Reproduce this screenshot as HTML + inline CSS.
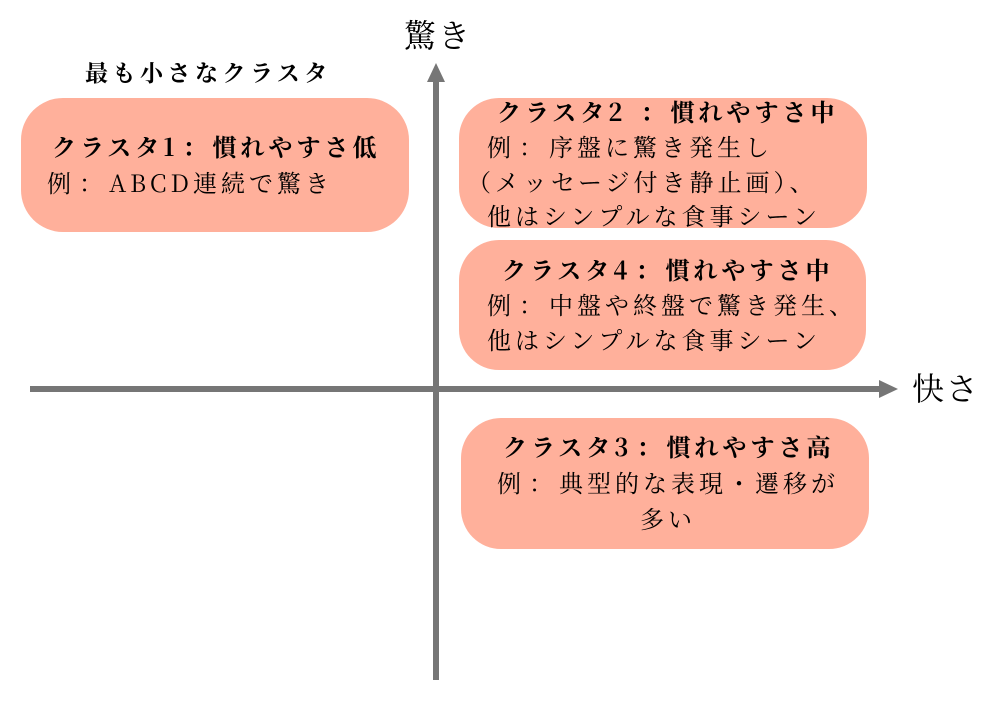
<!DOCTYPE html>
<html><head><meta charset="utf-8"><style>
body{margin:0;width:986px;height:702px;background:#fff;position:relative;overflow:hidden;font-family:"Noto Serif CJK SC","Liberation Serif",serif;color:#000}
.t{position:absolute;white-space:nowrap;font-size:24px;line-height:30px;letter-spacing:4px}
.b{font-weight:bold}
.c{letter-spacing:0;padding:0 6px 0 4px}
svg{position:absolute;left:0;top:0}
</style></head><body>
<svg width="986" height="702">
<rect x="21" y="98" width="388" height="134" rx="42" fill="#ffb09b"/>
<rect x="459" y="98" width="408" height="130" rx="40" fill="#ffb09b"/>
<rect x="459" y="240" width="407" height="130" rx="40" fill="#ffb09b"/>
<rect x="461" y="418" width="408" height="131" rx="40" fill="#ffb09b"/>
<rect x="433" y="80" width="6" height="600" fill="#767676"/>
<polygon points="436,63 427,82 445,82" fill="#767676"/>
<rect x="30" y="386" width="852" height="6" fill="#767676"/>
<polygon points="898,389 879,380 879,398" fill="#767676"/>
</svg>
<div class="t" style="left:404px;top:14px;font-size:32px;line-height:40px;letter-spacing:2px">驚き</div>
<div class="t" style="left:912px;top:367px;font-size:32px;line-height:40px;letter-spacing:2px">快さ</div>
<div class="t b" style="left:85px;top:57px;font-size:23px;letter-spacing:4.5px">最も小さなクラスタ</div>

<div class="t b" style="left:52px;top:131px">クラスタ1<span class="c">：</span>慣れやすさ低</div>
<div class="t" style="left:47px;top:167px">例<span class="c">：</span>ABCD連続で驚き</div>

<div class="t b" style="left:497px;top:96px">クラスタ2 <span class="c">：</span>慣れやすさ中</div>
<div class="t" style="left:487px;top:131px">例<span class="c">：</span>序盤に驚き発生し</div>
<div class="t" style="left:467px;top:166px">（メッセージ付き静止画）、</div>
<div class="t" style="left:487px;top:200px">他はシンプルな食事シーン</div>

<div class="t b" style="left:502px;top:254px">クラスタ4<span class="c">：</span>慣れやすさ中</div>
<div class="t" style="left:487px;top:289px">例<span class="c">：</span>中盤や終盤で驚き発生、</div>
<div class="t" style="left:487px;top:324px">他はシンプルな食事シーン</div>

<div class="t b" style="left:503px;top:431px">クラスタ3<span class="c">：</span>慣れやすさ高</div>
<div class="t" style="left:497px;top:467px">例<span class="c">：</span>典型的な表現・遷移が</div>
<div class="t" style="left:640px;top:503px">多い</div>
</body></html>
